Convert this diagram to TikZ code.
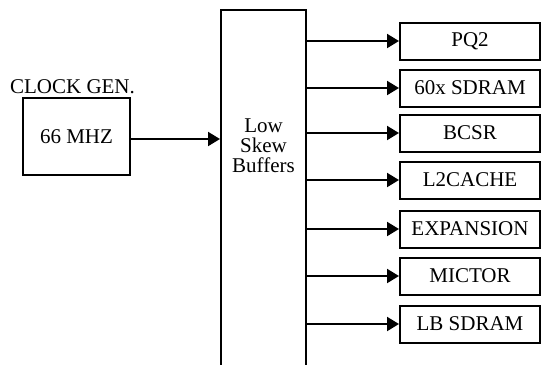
\documentclass[tikz,border=0pt]{standalone}
\usepackage{fontspec}
\setmainfont{Liberation Serif}
\usetikzlibrary{arrows.meta}
\begin{document}
\begin{tikzpicture}[x=1bp,y=-1bp,
  every node/.style={font=\fontsize{21bp}{20bp}\selectfont, inner sep=0pt},
  box/.style={draw, line width=2bp, minimum width=140bp, minimum height=37bp},
  arr/.style={line width=2bp, -{Triangle[length=12bp,width=14bp]}}]
\useasboundingbox (0,0) rectangle (541,364);
% main buffer box (extends below the picture)
\node[draw, line width=2bp, minimum width=85bp, minimum height=362bp] (buf) at (263.5,191) {};
\node[align=center] (buftxt) at (263.5,146) {Low\\Skew\\Buffers};
% clock generator
\node[draw, line width=2bp, minimum width=107bp, minimum height=77bp] (clk) at (76.5,136.5) {66 MHZ};
\node[anchor=base] (clkgen) at (72.5,93) {CLOCK GEN.};
\draw[arr] (clk.east |- 0,139) -- (buf.west |- 0,139);
% output boxes
\node[box] (pq2) at (470,41) {PQ2};
\node[box] (sdram) at (470,88) {60x SDRAM};
\node[box] (bcsr) at (470,133) {BCSR};
\node[box] (l2) at (470,180) {L2CACHE};
\node[box] (exp) at (470,229) {EXPANSION};
\node[box] (mic) at (470,276) {MICTOR};
\node[box] (lb) at (470,324) {LB SDRAM};
\foreach \n in {pq2,sdram,bcsr,l2,exp,mic,lb}
  \draw[arr] (buf.east |- \n.west) -- (\n.west);
\end{tikzpicture}
\end{document}
